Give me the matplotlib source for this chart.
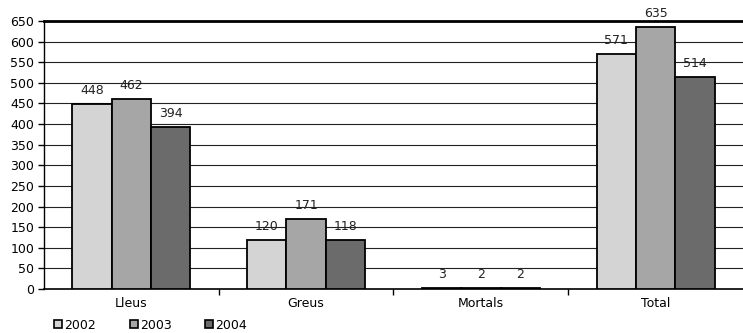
import matplotlib.pyplot as plt
from matplotlib.lines import Line2D
import numpy as np

categories = ['Lleus', 'Greus', 'Mortals', 'Total']
years = ['2002', '2003', '2004']
v2002 = [448, 120, 3, 571]
v2003 = [462, 171, 2, 635]
v2004 = [394, 118, 2, 514]
colors = ['#d4d4d4', '#a6a6a6', '#6b6b6b']

plt.rcParams['font.family'] = ['DejaVu Sans']

fig = plt.figure(figsize=(7.43, 3.33), dpi=100)
ax = fig.add_axes([0.0592, 0.132, 0.9408, 0.805])

x = np.arange(len(categories))
w = 0.225
for i, (vals, col) in enumerate(zip([v2002, v2003, v2004], colors)):
    bars = ax.bar(x + (i - 1) * w, vals, width=w, color=col,
                  edgecolor='black', linewidth=1.3, zorder=3)
    for b, v in zip(bars, vals):
        ax.annotate(str(v), (b.get_x() + b.get_width() / 2, v),
                    xytext=(0, 5), textcoords='offset points',
                    ha='center', va='bottom', fontsize=9, color='#222222')

ax.set_xlim(-0.5, 3.5)
ax.set_ylim(0, 650)
ax.set_yticks(np.arange(0, 651, 50))
ax.tick_params(axis='y', direction='out', length=4, width=1, labelsize=9, pad=3)

# category ticks at group boundaries, labels centered
ax.set_xticks([0.5, 1.5, 2.5], minor=False)
ax.set_xticklabels([])
ax.set_xticks(x, minor=True)
ax.set_xticklabels(categories, minor=True, fontsize=9)
ax.tick_params(axis='x', which='major', direction='out', length=4, width=1)
ax.tick_params(axis='x', which='minor', length=0, pad=6)

ax.grid(axis='y', color='#222222', linewidth=0.8, zorder=0)
ax.set_axisbelow(True)
for s in ['right', 'top']:
    ax.spines[s].set_visible(False)
ax.axhline(650, color='black', linewidth=2, zorder=1, clip_on=False)
ax.spines['left'].set_linewidth(1)
ax.spines['bottom'].set_linewidth(1.2)

handles = [Line2D([], [], marker='s', linestyle='none', markersize=5.5,
                  markerfacecolor=c, markeredgecolor='black', markeredgewidth=1.2)
           for c in colors]
fig.legend(handles, years, loc='lower left', bbox_to_anchor=(0.055, -0.03),
           ncol=3, frameon=False, fontsize=9, handletextpad=0.0,
           columnspacing=2.5, handlelength=1.0)

fig.savefig('out.png', dpi=100)
